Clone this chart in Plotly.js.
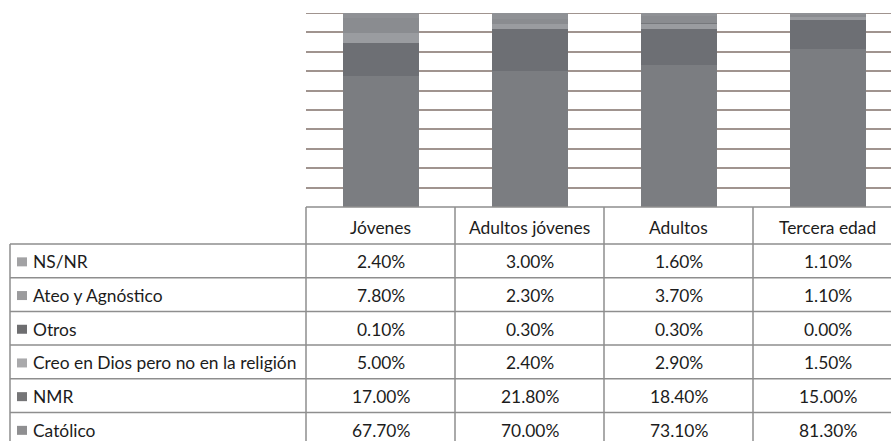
<!DOCTYPE html>
<html>
<head>
<meta charset="utf-8">
<script src="https://cdn.plot.ly/plotly-3.0.1.min.js"></script>
<style>
html,body{margin:0;padding:0;overflow:hidden;background:#fff;}
#chart{width:905px;height:441px;}
</style>
</head>
<body>
<div id="chart"></div>
<script>
// Data
const categories = ["Jóvenes", "Adultos jóvenes", "Adultos", "Tercera edad"];
const seriesNames = ["Católico", "NMR", "Creo en Dios pero no en la religión", "Otros", "Ateo y Agnóstico", "NS/NR"];
const catolico = [67.7, 70.0, 73.1, 81.3];
const nmr = [17.0, 21.8, 18.4, 15.0];
const creo = [5.0, 2.4, 2.9, 1.5];
const otros = [0.1, 0.3, 0.3, 0.0];
const ateo = [7.8, 2.3, 3.7, 1.1];
const nsnr = [2.4, 3.0, 1.6, 1.1];
const seriesValues = [catolico, nmr, creo, otros, ateo, nsnr];
// table row order (top to bottom)
const tableOrder = [5, 4, 3, 2, 1, 0];

// Styles
const barColors = ["#7b7d81", "#6d6f74", "#9a9ca0", "#76787c", "#8a8c90", "#8f9195"];
const keyColors = ["#8f8f91", "#757577", "#a9a9ab", "#6e6e70", "#9b9b9d", "#a2a2a4"];

const W = 905, H = 441;
const L = 306, R = 902, T = 13, B = 207;
const px2x = p => (p - L) / (R - L);
const py2y = p => (B - p) / (B - T);

const traces = seriesNames.map((n, i) => ({
  type: "bar",
  name: n,
  x: categories,
  y: seriesValues[i],
  marker: {color: barColors[i], line: {width: 0}},
  hoverinfo: "name+y"
}));

const lineColor = "#8e8e8e";
const gridColor = "#a0948f";
const lw = 1.5;
const shapes = [];
const annotations = [];
// top gridline (at 100%)
shapes.push({type: "line", xref: "paper", yref: "y", x0: 0, x1: 1, y0: 100, y1: 100, layer: "below", line: {color: gridColor, width: 2}});
const headerBottom = 244;
const rowH = 33.7;
// horizontal lines
shapes.push({type: "line", xref: "paper", yref: "paper", x0: px2x(L), x1: px2x(R), y0: py2y(B), y1: py2y(B), line: {color: lineColor, width: lw}});
for (let r = 0; r <= 6; r++) {
  const yy = headerBottom + r * rowH;
  shapes.push({type: "line", xref: "paper", yref: "paper", x0: px2x(10), x1: px2x(R), y0: py2y(yy), y1: py2y(yy), line: {color: lineColor, width: lw}});
}
// vertical lines
shapes.push({type: "line", xref: "paper", yref: "paper", x0: px2x(10), x1: px2x(10), y0: py2y(headerBottom), y1: py2y(460), line: {color: lineColor, width: lw}});
for (let c = 0; c <= categories.length; c++) {
  const xx = L + c * (R - L) / categories.length;
  shapes.push({type: "line", xref: "paper", yref: "paper", x0: px2x(xx), x1: px2x(xx), y0: py2y(B), y1: py2y(460), line: {color: lineColor, width: lw}});
}
const font = {family: "Lato, 'Open Sans', sans-serif", size: 17.4, color: "#1c1c1c"};
// header texts
categories.forEach((c, i) => {
  annotations.push({xref: "x", yref: "paper", x: i, y: py2y(227), text: c, showarrow: false, font: font, xanchor: "center", yanchor: "middle"});
});
// rows
tableOrder.forEach((si, r) => {
  const cy = headerBottom + r * rowH + rowH / 2 + 1;
  shapes.push({type: "rect", xref: "paper", yref: "paper", x0: px2x(17), x1: px2x(27), y0: py2y(cy - 4.5), y1: py2y(cy + 4.5), fillcolor: keyColors[si], line: {width: 0}});
  annotations.push({xref: "paper", yref: "paper", x: px2x(31), y: py2y(cy), text: seriesNames[si], showarrow: false, font: font, xanchor: "left", yanchor: "middle"});
  seriesValues[si].forEach((v, i) => {
    annotations.push({xref: "x", yref: "paper", x: i, y: py2y(cy), text: v.toFixed(2) + "%", showarrow: false, font: font, xanchor: "center", yanchor: "middle"});
  });
});

const layout = {
  width: W, height: H,
  margin: {l: L, r: W - R, t: T, b: H - B, pad: 0},
  barmode: "stack",
  bargap: 0.49,
  showlegend: false,
  paper_bgcolor: "#fff",
  plot_bgcolor: "#fff",
  xaxis: {type: "category", range: [-0.5, 3.5], showticklabels: false, showgrid: false, zeroline: false, showline: false, ticks: ""},
  yaxis: {range: [0, 100], dtick: 10, showticklabels: false, showgrid: true, gridcolor: gridColor, gridwidth: 2, zeroline: false, showline: false, ticks: ""},
  shapes: shapes,
  annotations: annotations
};
Plotly.newPlot("chart", traces, layout, {displayModeBar: false, staticPlot: true});
</script>
</body>
</html>
